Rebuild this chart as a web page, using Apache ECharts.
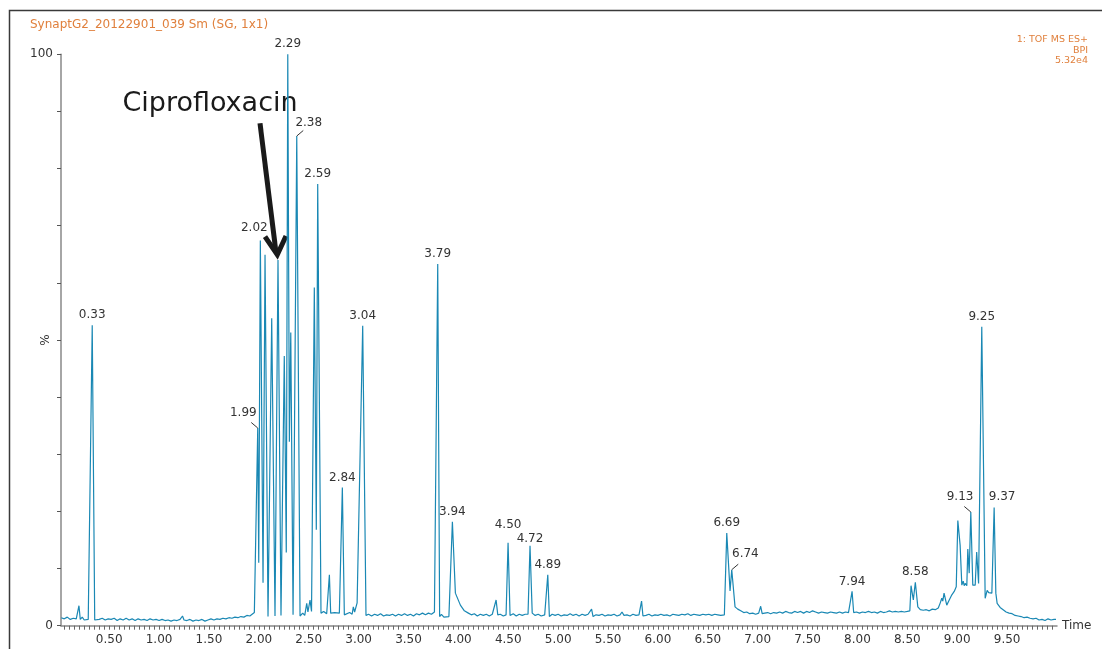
<!DOCTYPE html>
<html><head><meta charset="utf-8">
<script src="https://cdn.jsdelivr.net/npm/echarts@6/dist/echarts.min.js"></script>
<style>html,body{margin:0;padding:0;background:#fff}#c{width:1102px;height:649px}</style>
</head><body><div id="c"></div>
<script>
// Chromatogram trace: [retention time (min), intensity (%)]
const trace = [
[0.02,1.4],[0.05,1.2],[0.08,1.5],[0.11,1.1],[0.14,1.3],[0.17,1.2],[0.185,1.4],[0.197,3.5],[0.21,1.1],[0.23,1.5],[0.25,1.0],[0.27,1.3],[0.29,1.1],[0.305,1.4],[0.33,52.6],[0.355,1.0],[0.37,1.3],[0.40,1.1],[0.43,1.3],[0.46,1.0],[0.49,1.2],[0.52,1.1],[0.55,1.3],[0.58,0.9],[0.61,1.2],[0.64,1.0],[0.67,1.3],[0.70,1.0],[0.73,1.2],[0.76,0.9],[0.79,1.2],[0.82,1.0],[0.85,1.1],[0.88,0.9],[0.91,1.2],[0.94,1.0],[0.97,1.1],[1.00,0.9],[1.03,1.1],[1.06,0.9],[1.09,1.0],[1.12,0.8],[1.15,1.0],[1.18,0.9],[1.21,1.1],[1.235,1.7],[1.25,1.0],[1.28,0.9],[1.31,1.1],[1.34,0.8],[1.37,1.0],[1.40,0.9],[1.43,1.1],[1.46,0.8],[1.49,1.0],[1.52,1.2],[1.55,1.0],[1.58,1.2],[1.61,1.1],[1.64,1.3],[1.67,1.2],[1.70,1.4],[1.73,1.3],[1.76,1.5],[1.79,1.4],[1.82,1.6],[1.85,1.5],[1.88,1.8],[1.91,1.7],[1.93,2.0],[1.955,2.3],
[1.989,34.6],[1.999,11.0],[2.015,67.4],[2.042,7.5],[2.062,64.9],[2.092,1.6],[2.129,53.8],[2.162,1.7],[2.192,64.0],[2.222,1.8],[2.255,47.2],[2.275,12.8],[2.290,100],[2.306,32.2],[2.320,51.3],[2.343,1.9],[2.380,85.7],[2.413,1.7],[2.44,2.2],[2.46,1.8],[2.480,3.9],[2.492,2.4],[2.513,4.5],[2.528,2.5],[2.556,59.2],[2.576,16.8],[2.590,77.3],[2.623,2.2],[2.65,2.5],[2.68,2.1],[2.695,2.3],[2.707,8.9],[2.72,2.2],[2.76,2.3],[2.807,2.2],[2.837,24.2],[2.857,1.9],[2.874,2.0],[2.91,2.3],[2.935,2.0],[2.947,3.3],[2.96,2.4],[2.985,4.0],[3.005,4.3],[3.041,52.5],[3.074,1.8],
[3.10,2.0],[3.13,1.7],[3.16,2.0],[3.19,1.8],[3.22,2.1],[3.25,1.7],[3.28,1.9],[3.31,1.8],[3.34,2.0],[3.37,1.7],[3.40,2.0],[3.43,1.8],[3.46,2.1],[3.49,1.8],[3.52,2.0],[3.55,1.7],[3.58,2.1],[3.61,1.9],[3.64,2.2],[3.67,1.9],[3.70,2.2],[3.73,2.0],[3.76,2.4],[3.775,2.4],[3.793,63.3],[3.812,1.6],[3.83,2.0],[3.855,1.5],[3.875,1.8],[3.905,1.6],[3.94,18.2],[3.97,5.7],[4.02,3.6],[4.06,2.6],[4.10,2.2],[4.13,1.9],[4.16,2.1],[4.19,1.7],[4.22,2.0],[4.25,1.8],[4.28,2.0],[4.31,1.7],[4.34,2.0],[4.36,2.1],[4.378,4.5],[4.395,1.9],[4.42,2.0],[4.45,1.7],[4.478,1.9],[4.498,14.5],[4.518,1.8],[4.55,2.1],[4.58,1.7],[4.61,2.0],[4.64,1.8],[4.67,2.0],[4.698,2.0],[4.718,14.0],[4.74,2.2],[4.77,1.8],[4.80,2.0],[4.83,1.7],[4.865,1.9],[4.88,1.7],[4.896,8.9],[4.912,1.6],[4.94,2.0],[4.97,1.8],
[5.00,2.0],[5.03,1.7],[5.06,1.9],[5.09,1.8],[5.12,2.1],[5.15,1.8],[5.18,2.0],[5.21,1.7],[5.24,2.0],[5.27,1.8],[5.30,2.0],[5.32,2.1],[5.335,2.9],[5.35,1.6],[5.38,1.9],[5.41,1.8],[5.44,2.0],[5.47,1.7],[5.50,1.9],[5.53,1.8],[5.56,2.0],[5.59,1.7],[5.62,1.9],[5.64,2.4],[5.66,1.8],[5.69,1.9],[5.72,1.7],[5.75,2.0],[5.78,1.8],[5.81,1.9],[5.822,2.1],[5.836,4.3],[5.85,1.7],[5.88,1.8],[5.91,2.0],[5.94,1.7],[5.97,1.9],[6.00,1.8],[6.03,2.0],[6.06,1.8],[6.09,1.9],[6.12,1.7],[6.15,2.0],[6.18,1.9],[6.21,1.8],[6.24,2.0],[6.27,1.9],[6.30,2.1],[6.33,1.8],[6.36,2.0],[6.39,1.9],[6.42,1.8],[6.45,2.0],[6.48,1.9],[6.51,2.0],[6.54,1.8],[6.57,2.0],[6.60,1.9],[6.63,1.8],[6.666,1.9],[6.69,16.2],[6.723,6.1],[6.74,9.8],[6.773,3.3],[6.80,2.9],[6.83,2.6],[6.86,2.3],[6.89,2.4],[6.92,2.1],[6.95,2.2],[6.98,2.0],
[7.01,2.2],[7.03,3.4],[7.045,2.1],[7.07,2.2],[7.10,2.3],[7.13,2.1],[7.16,2.3],[7.19,2.2],[7.22,2.4],[7.25,2.2],[7.28,2.5],[7.31,2.3],[7.34,2.2],[7.37,2.5],[7.40,2.3],[7.43,2.5],[7.46,2.2],[7.49,2.5],[7.52,2.3],[7.55,2.6],[7.58,2.4],[7.61,2.2],[7.64,2.4],[7.67,2.3],[7.70,2.2],[7.73,2.4],[7.76,2.3],[7.79,2.2],[7.82,2.4],[7.85,2.2],[7.88,2.4],[7.91,2.3],[7.93,2.5],[7.946,6.0],[7.962,2.3],[7.99,2.4],
[8.02,2.2],[8.05,2.4],[8.08,2.3],[8.11,2.5],[8.14,2.3],[8.17,2.4],[8.20,2.2],[8.23,2.5],[8.26,2.3],[8.29,2.4],[8.32,2.6],[8.35,2.4],[8.38,2.5],[8.41,2.4],[8.44,2.5],[8.47,2.4],[8.50,2.5],[8.525,2.6],[8.537,7.0],[8.56,4.5],[8.58,7.6],[8.605,3.3],[8.63,2.8],[8.66,2.7],[8.69,2.8],[8.72,2.6],[8.75,2.9],[8.78,2.8],[8.81,3.1],[8.83,4.0],[8.845,4.8],[8.855,4.3],[8.868,5.7],[8.895,3.6],[8.92,4.5],[8.946,5.4],[8.97,6.0],[8.99,6.8],
[9.006,18.4],[9.029,14.1],[9.046,7.1],[9.06,7.8],[9.07,7.0],[9.08,7.4],[9.096,7.0],[9.106,13.4],[9.12,9.2],[9.136,19.9],[9.156,7.1],[9.18,7.1],[9.195,12.9],[9.214,7.4],[9.226,7.2],[9.246,52.3],[9.28,4.8],[9.30,6.2],[9.315,5.8],[9.33,5.9],[9.347,5.7],[9.36,6.0],[9.37,20.7],[9.387,5.7],[9.40,3.9],[9.43,3.2],[9.46,2.8],[9.49,2.4],[9.52,2.2],[9.55,2.1],[9.58,1.8],[9.61,1.7],[9.64,1.6],[9.67,1.4],[9.70,1.5],[9.73,1.3],[9.76,1.2],[9.79,1.3],[9.82,1.0],[9.85,1.1],[9.88,0.9],[9.91,1.2],[9.94,1.0],[9.97,1.1],[9.99,1.1]
];
// Peak labels (retention times printed above peaks)
const peakLabels = ['0.33','1.99','2.02','2.29','2.38','2.59','2.84','3.04','3.79','3.94','4.50','4.72','4.89','6.69','6.74','7.94','8.58','9.13','9.25','9.37'];
// Annotation
const annotationText = 'Ciprofloxacin';
const annotationRt = 2.19;
// Axis tick labels
const xTickLabels = [0.5,1.0,1.5,2.0,2.5,3.0,3.5,4.0,4.5,5.0,5.5,6.0,6.5,7.0,7.5,8.0,8.5,9.0,9.5];
const yTickLabels = [0,100];
const yAxisName = '%';
const xAxisName = 'Time';
const titleText = 'SynaptG2_20122901_039 Sm (SG, 1x1)';
const infoText = ['1: TOF MS ES+','BPI','5.32e4'];

// ---- layout / styling ----
const FONT = '"DejaVu Sans", Verdana, sans-serif';
const labelOffset = {
  '1.99':[-14.4,-15.6,true], '2.02':[-6,-13], '2.38':[12,-13.3,true],
  '4.50':[0,-18], '4.72':[0,-6.5], '6.74':[13.6,-15.7,true],
  '9.13':[-10.7,-15.3,true], '9.37':[8,-10.6]
};
function peakAt(v){
  let best=null;
  trace.forEach(p=>{ if(Math.abs(p[0]-v)<=0.012 && (!best || p[1]>best[1])) best=p; });
  return best;
}
const labelAnchors = peakLabels.map((s,i)=>{ const p=peakAt(parseFloat(s)); return [p[0],p[1],i]; });
const minorTicks = [];
for (let k=1;k<200;k++) minorTicks.push(+(k*0.05).toFixed(2));

const chart = echarts.init(document.getElementById('c'), null, {renderer:'canvas'});
chart.setOption({
  animation:false,
  backgroundColor:'#fff',
  grid:{left:61, right:45, top:54.3, bottom:23.3},
  xAxis:{
    type:'value', min:0.017, max:10.0,
    name:xAxisName, nameLocation:'end', nameGap:5,
    nameTextStyle:{fontFamily:FONT, fontSize:12, color:'#333', verticalAlign:'middle'},
    axisLine:{lineStyle:{color:'#888', width:1.5}},
    axisTick:{show:true, length:4, customValues:minorTicks, lineStyle:{color:'#666', width:1}},
    axisLabel:{customValues:xTickLabels, formatter:v=>v.toFixed(2), fontFamily:FONT, fontSize:12, color:'#333', margin:8},
    splitLine:{show:false}
  },
  yAxis:{
    type:'value', min:0, max:100, interval:10,
    name:yAxisName, nameLocation:'middle', nameRotate:90, nameGap:9, nameMoveOverlap:false,
    nameTextStyle:{fontFamily:FONT, fontSize:12, color:'#333'},
    axisLine:{show:true, lineStyle:{color:'#888', width:1.5}},
    axisTick:{show:true, length:4, lineStyle:{color:'#555', width:1}},
    axisLabel:{formatter:v=>yTickLabels.indexOf(v)>=0?String(v):'', fontFamily:FONT, fontSize:12, color:'#333', margin:8},
    splitLine:{show:false}
  },
  series:[
    {type:'line', data:trace, showSymbol:false, symbol:'none', sampling:null,
     lineStyle:{color:'#1a88b4', width:1.2}, z:2, silent:true},
    {type:'custom', data:labelAnchors, z:5, silent:true, clip:false,
     renderItem:(params, api)=>{
       const i = api.value(2);
       const pt = api.coord([api.value(0), api.value(1)]);
       const off = labelOffset[peakLabels[i]] || [0,-10,false];
       const children = [{type:'text', style:{text:peakLabels[i], x:pt[0]+off[0], y:pt[1]+off[1],
         textAlign:'center', textVerticalAlign:'middle', font:'12px '+FONT, fill:'#333'}}];
       if (off[2]) children.push({type:'line', shape:{x1:pt[0], y1:pt[1], x2:pt[0]+Math.sign(off[0])*6.5, y2:pt[1]-5.5},
         style:{stroke:'#333', lineWidth:1}});
       return {type:'group', children};
     }}
  ]
});

const cp = peakAt(annotationRt);
const tp = chart.convertToPixel({gridIndex:0}, [cp[0], cp[1]]);
const tip = [tp[0]-0.7, tp[1]-3.3];
chart.setOption({
  graphic:[
    {type:'rect', shape:{x:9.5, y:10.5, width:1200, height:700}, style:{fill:'none', stroke:'#3a3a3a', lineWidth:1.5}, silent:true},
    {type:'text', style:{text:titleText, x:30, y:24.5, textVerticalAlign:'middle', font:'12px '+FONT, fill:'#e0803d'}},
    {type:'text', style:{text:infoText.join('\n'), x:1088, y:34.5, textAlign:'right', textVerticalAlign:'top', font:'9.5px '+FONT, lineHeight:10.5, fill:'#e0803d'}},
    {type:'text', style:{text:annotationText, x:tip[0]-67.3, y:tip[1]-152.5, textAlign:'center', textVerticalAlign:'middle', font:'27px '+FONT, fill:'#1a1a1a'}},
    {type:'line', shape:{x1:tip[0]-17.3, y1:tip[1]-133.4, x2:tip[0]-1.5, y2:tip[1]-6}, style:{stroke:'#1a1a1a', lineWidth:5}},
    {type:'polyline', shape:{points:[[tip[0]-12.3, tip[1]-20],[tip[0], tip[1]-2],[tip[0]+8.7, tip[1]-20.7]]}, style:{stroke:'#1a1a1a', lineWidth:5, fill:'none', lineJoin:'miter'}}
  ]
});
</script>
</body></html>
